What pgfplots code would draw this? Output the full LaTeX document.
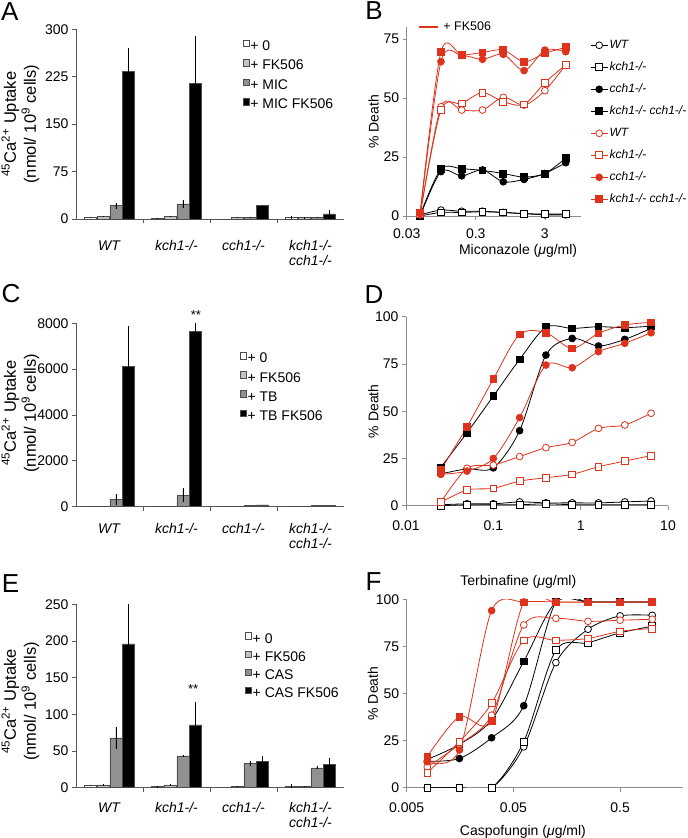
\documentclass[border=0pt]{standalone}
\usepackage{fontspec}
\setmainfont{Liberation Sans}
\usepackage{pgfplots}
\pgfplotsset{compat=1.18}
\definecolor{myred}{RGB}{222,50,28}
\definecolor{gA}{RGB}{195,195,195}
\definecolor{gB}{RGB}{145,145,145}

\pgfplotsset{
  every axis/.append style={scale only axis,
    /pgf/number format/assume math mode=true,
    /pgf/number format/1000 sep={},
    scaled y ticks=false,
    tick label style={font=\fontsize{14}{16}\selectfont},
    label style={font=\fontsize{14}{16}\selectfont}},
  barax/.style={
    anchor=south west, width=268pt, xmin=-0.5, xmax=3.5, ymin=0, clip=false,
    axis x line*=bottom, axis y line*=left,
    axis line style={black!65, line width=0.7pt},
    tick style={black!65, line width=0.7pt}, tick align=outside, major tick length=4pt,
    xtick={0.5,1.5,2.5}, xticklabels={},
    extra x ticks={0,1,2,3},
    extra x tick labels={\textit{WT},\textit{kch1-/-},\textit{cch1-/-},{\textit{kch1-/-}\\\textit{cch1-/-}}},
    extra x tick style={major tick length=0pt, tick style={draw=none}},
    x tick label style={font=\fontsize{14}{15}\selectfont, align=center},
    ylabel={\textsuperscript{45}Ca\textsuperscript{2+} Uptake\\(nmol/ 10\textsuperscript{9} cells)},
    ylabel style={font=\fontsize{16.5}{20}\selectfont, align=center, anchor=center},
    legend style={draw=none, fill=none, inner sep=0pt, anchor=north west,
      font=\fontsize{14}{16}\selectfont,
      nodes={inner sep=1pt, text height=10pt, text depth=3pt}},
    legend cell align=left,
  },
  bb/.style={ybar, bar width=12pt, draw=black!70, line width=0.5pt, forget plot,
    /pgfplots/error bars/y dir=both, /pgfplots/error bars/y explicit,
    /pgfplots/error bars/error mark=none},
  bzero/.style={bb, bar shift=-19.2pt, fill=white,
    /pgfplots/error bars/error bar style={black, line width=0.6pt, xshift=-19.2pt}},
  bone/.style={bb, bar shift=-6.4pt, fill=gA,
    /pgfplots/error bars/error bar style={black, line width=0.6pt, xshift=-6.4pt}},
  btwo/.style={bb, bar shift=6.4pt, fill=gB,
    /pgfplots/error bars/error bar style={black, line width=0.6pt, xshift=6.4pt}},
  bthree/.style={bb, bar shift=19.2pt, fill=black,
    /pgfplots/error bars/error bar style={black, line width=0.6pt, xshift=19.2pt}},
  sqimg/.style={legend image code/.code={\draw[fill=#1,draw=black!70] (0pt,0.5pt) rectangle (6pt,7pt);}},
  fkleg/.style={legend image code/.code={\draw[myred, line width=2.2pt] (0pt,0pt) -- (19pt,0pt);}},
  logaxstyle/.style={anchor=south west, ymin=0,
    axis x line*=bottom, axis y line*=left,
    axis line style={black!45, line width=0.7pt},
    tick style={black!45, line width=0.6pt},
    tick align=outside, major tick length=4pt,
    x tick label style={yshift=-7.3pt},
    ylabel={\% Death}, ylabel style={anchor=center}},
}

\begin{document}
\begin{tikzpicture}
\useasboundingbox (0pt,0pt) rectangle (688pt,838pt);

% ---------------- A ----------------
\begin{axis}[barax, at={(76pt,619pt)}, height=189.7pt, ymax=300,
  ytick={0,75,150,225,300},
  x tick label style={yshift=-18pt},
  ylabel style={at={(axis description cs:-0.207,0.5)}},
  legend style={at={(axis description cs:0.622,0.948)}, row sep=4.5pt}]
\addplot[bzero] coordinates {(0,3) +- (0,0.5) (1,1.5) +- (0,0.3) (2,0.3) +- (0,0) (3,2) +- (0,2)};
\addplot[bone] coordinates {(0,4) +- (0,1) (1,4) +- (0,1) (2,2.5) +- (0,0.5) (3,2) +- (0,0.5)};
\addplot[btwo] coordinates {(0,21) +- (0,5) (1,24) +- (0,6) (2,2.5) +- (0,0.5) (3,2.5) +- (0,1)};
\addplot[bthree] coordinates {(0,233) +- (0,38) (1,214) +- (0,75) (2,21) +- (0,0) (3,8) +- (0,7)};
\addlegendimage{sqimg=white}
\addlegendentry{+ 0}
\addlegendimage{sqimg=gA}
\addlegendentry{+ FK506}
\addlegendimage{sqimg=gB}
\addlegendentry{+ MIC}
\addlegendimage{sqimg=black}
\addlegendentry{+ MIC FK506}
\end{axis}

% ---------------- C ----------------
\begin{axis}[barax, at={(76pt,331.3pt)}, height=183.4pt, ymax=8000,
  ytick={0,2000,4000,6000,8000},
  x tick label style={yshift=-13.5pt},
  ylabel style={at={(axis description cs:-0.207,0.51)}},
  legend style={at={(axis description cs:0.612,0.845)}, row sep=4.1pt}]
\addplot[bzero] coordinates {(0,5) +- (0,0) (1,5) +- (0,0) (2,5) +- (0,0) (3,5) +- (0,0)};
\addplot[bone] coordinates {(0,5) +- (0,0) (1,5) +- (0,0) (2,10) +- (0,0) (3,10) +- (0,0)};
\addplot[btwo] coordinates {(0,310) +- (0,240) (1,500) +- (0,300) (2,55) +- (0,0) (3,45) +- (0,0)};
\addplot[bthree] coordinates {(0,6120) +- (0,1770) (1,7660) +- (0,360) (2,80) +- (0,0) (3,50) +- (0,0)};
\node[font=\fontsize{13}{13}\selectfont, yshift=-2pt] at (axis cs:1.29,8460) {**};
\addlegendimage{sqimg=white}
\addlegendentry{+ 0}
\addlegendimage{sqimg=gA}
\addlegendentry{+ FK506}
\addlegendimage{sqimg=gB}
\addlegendentry{+ TB}
\addlegendimage{sqimg=black}
\addlegendentry{+ TB FK506}
\end{axis}

% ---------------- E ----------------
\begin{axis}[barax, at={(76pt,50.3pt)}, height=183.4pt, ymax=250,
  ytick={0,50,100,150,200,250},
  x tick label style={yshift=-11.5pt},
  ylabel style={at={(axis description cs:-0.207,0.47)}},
  legend style={at={(axis description cs:0.631,0.85)}, row sep=3.2pt}]
\addplot[bzero] coordinates {(0,3) +- (0,0.5) (1,1.5) +- (0,0.3) (2,0.3) +- (0,0) (3,2) +- (0,3)};
\addplot[bone] coordinates {(0,4) +- (0,1) (1,4) +- (0,1) (2,2) +- (0,0.3) (3,2) +- (0,0.3)};
\addplot[btwo] coordinates {(0,68) +- (0,15) (1,43.5) +- (0,0.5) (2,33) +- (0,4) (3,27) +- (0,2)};
\addplot[bthree] coordinates {(0,196) +- (0,55) (1,85.5) +- (0,32) (2,36) +- (0,7) (3,32) +- (0,8)};
\node[font=\fontsize{13}{13}\selectfont, yshift=-2pt] at (axis cs:1.25,137.7) {**};
\addlegendimage{sqimg=white}
\addlegendentry{+ 0}
\addlegendimage{sqimg=gA}
\addlegendentry{+ FK506}
\addlegendimage{sqimg=gB}
\addlegendentry{+ CAS}
\addlegendimage{sqimg=black}
\addlegendentry{+ CAS FK506}
\end{axis}

% ---------------- B ----------------
\begin{axis}[logaxstyle, xmode=log, xminorticks=false,
  at={(406.7pt,622pt)}, width=174.3pt, height=188.8pt,
  xmin=0.03, xmax=10, ymax=80, ytick={0,25,50,75},
  xtick={0.03,0.3,3}, xticklabels={0.03,0.3,3},
  x tick label style={yshift=2pt},
  xlabel={Miconazole (\textit{μ}g/ml)},
  xlabel style={at={(axis description cs:0.639,-0.185)}, anchor=center},
  ylabel style={at={(axis description cs:-0.19,0.5)}},
  legend style={at={(axis description cs:1.052,0.945)}, anchor=north west,
    draw=none, fill=none, inner sep=0pt, row sep=7pt,
    font=\fontsize{12}{14}\selectfont\itshape,
    nodes={inner sep=1.5pt, text height=9pt, text depth=3pt}},
  legend cell align=left]
\addplot[black, line width=0.8pt, smooth, mark=*, mark size=3.4pt, mark options={fill=white, draw=black, solid}] coordinates {(0.047,0.5) (0.094,2.5) (0.1875,2) (0.375,2) (0.75,1.5) (1.5,1) (3,0.5) (6,0.5)};
\addlegendentry{WT}
\addplot[black, line width=0.8pt, smooth, mark=square*, mark size=3.4pt, mark options={fill=white, draw=black, solid}] coordinates {(0.047,0) (0.094,1.5) (0.1875,1.5) (0.375,1.8) (0.75,1.5) (1.5,1) (3,0.8) (6,0.8)};
\addlegendentry{kch1-/-}
\addplot[black, line width=0.8pt, smooth, mark=*, mark size=3.4pt, mark options={fill=black, draw=black, solid}] coordinates {(0.047,0) (0.094,18.8) (0.1875,17) (0.375,19.5) (0.75,14.5) (1.5,15.5) (3,18) (6,22.6)};
\addlegendentry{cch1-/-}
\addplot[black, line width=0.8pt, smooth, mark=square*, mark size=3.4pt, mark options={fill=black, draw=black, solid}] coordinates {(0.047,0.5) (0.094,19.9) (0.1875,20) (0.375,19.3) (0.75,18) (1.5,16.5) (3,18) (6,24.5)};
\addlegendentry{kch1-/- cch1-/-}
\addplot[myred, line width=0.8pt, smooth, mark=*, mark size=3.4pt, mark options={fill=white, draw=myred, solid}] coordinates {(0.047,0.5) (0.094,46.3) (0.1875,44.9) (0.375,44.9) (0.75,50.3) (1.5,47) (3,53.1) (6,64)};
\addlegendentry{WT}
\addplot[myred, line width=0.8pt, smooth, mark=square*, mark size=3.4pt, mark options={fill=white, draw=myred, solid}] coordinates {(0.047,1) (0.094,44.9) (0.1875,47.7) (0.375,52.3) (0.75,48.4) (1.5,47.3) (3,56.5) (6,64)};
\addlegendentry{kch1-/-}
\addplot[myred, line width=0.8pt, smooth, mark=*, mark size=3.4pt, mark options={fill=myred, draw=myred, solid}] coordinates {(0.047,1) (0.094,65.4) (0.1875,68) (0.375,66.4) (0.75,68.5) (1.5,61.6) (3,70.3) (6,69.6)};
\addlegendentry{cch1-/-}
\addplot[myred, line width=0.8pt, smooth, mark=square*, mark size=3.4pt, mark options={fill=myred, draw=myred, solid}] coordinates {(0.047,1.5) (0.094,69.6) (0.1875,68.2) (0.375,69.3) (0.75,70.3) (1.5,65.4) (3,68.9) (6,71.5)};
\addlegendentry{kch1-/- cch1-/-}
\end{axis}

% "+ FK506" key
\begin{axis}[hide axis, width=20pt, height=10pt, xmin=0, xmax=1, ymin=0, ymax=1,
  at={(418pt,811pt)}, anchor=south west,
  legend style={at={(axis description cs:0,0)}, anchor=west, draw=none, fill=none,
    inner sep=0pt, font=\fontsize{12.5}{14}\selectfont, nodes={inner sep=4pt}},
  fkleg]
\addlegendimage{myred}
\addlegendentry{+ FK506}
\end{axis}

% ---------------- D ----------------
\begin{axis}[logaxstyle, xmode=log, xminorticks=false,
  at={(406pt,332.3pt)}, width=262pt, height=189pt,
  xmin=0.01, xmax=10, ymax=100, ytick={0,25,50,75,100},
  xtick={0.01,0.1,1,10}, xticklabels={0.01,0.1,1,10},
  xlabel={Terbinafine (\textit{μ}g/ml)},
  xlabel style={at={(axis description cs:0.4286,-0.402)}, anchor=center},
  ylabel style={at={(axis description cs:-0.125,0.5)}}]
\addplot[black, line width=0.8pt, smooth, mark=*, mark size=3.4pt, mark options={fill=white, draw=black, solid}] coordinates {(0.025,0.5) (0.05,1) (0.1,1) (0.2,2) (0.4,1.5) (0.8,1.5) (1.6,1.5) (3.2,2) (6.4,2.5)};
\addplot[black, line width=0.8pt, smooth, mark=square*, mark size=3.4pt, mark options={fill=white, draw=black, solid}] coordinates {(0.025,0) (0.05,0.5) (0.1,0.5) (0.2,0.5) (0.4,1) (0.8,0.5) (1.6,0.5) (3.2,0.5) (6.4,0.5)};
\addplot[black, line width=0.8pt, smooth, mark=*, mark size=3.4pt, mark options={fill=black, draw=black, solid}] coordinates {(0.025,16.8) (0.05,19.5) (0.1,20) (0.2,39.7) (0.4,79.7) (0.8,88.5) (1.6,84.5) (3.2,88) (6.4,93.8)};
\addplot[black, line width=0.8pt, smooth, mark=square*, mark size=3.4pt, mark options={fill=black, draw=black, solid}] coordinates {(0.025,20.3) (0.05,38.6) (0.1,58) (0.2,77.4) (0.4,94.4) (0.8,93.8) (1.6,94.7) (3.2,94.2) (6.4,95)};
\addplot[myred, line width=0.8pt, smooth, mark=*, mark size=3.4pt, mark options={fill=white, draw=myred, solid}] coordinates {(0.025,1.8) (0.05,19.8) (0.1,21.5) (0.2,26) (0.4,30.7) (0.8,33.5) (1.6,40.9) (3.2,42.7) (6.4,48.9)};
\addplot[myred, line width=0.8pt, smooth, mark=square*, mark size=3.4pt, mark options={fill=white, draw=myred, solid}] coordinates {(0.025,1.8) (0.05,8.3) (0.1,9.2) (0.2,13) (0.4,14.8) (0.8,16.6) (1.6,20.6) (3.2,23.6) (6.4,26.5)};
\addplot[myred, line width=0.8pt, smooth, mark=*, mark size=3.4pt, mark options={fill=myred, draw=myred, solid}] coordinates {(0.025,16.6) (0.05,18.3) (0.1,25) (0.2,46.6) (0.4,74.4) (0.8,73) (1.6,81.5) (3.2,85.9) (6.4,91.5)};
\addplot[myred, line width=0.8pt, smooth, mark=square*, mark size=3.4pt, mark options={fill=myred, draw=myred, solid}] coordinates {(0.025,18.9) (0.05,41.8) (0.1,67) (0.2,90.6) (0.4,91.5) (0.8,83.2) (1.6,91.2) (3.2,95.6) (6.4,97)};
\end{axis}

% ---------------- F ----------------
\begin{axis}[logaxstyle, xmode=log, xminorticks=false,
  at={(406.7pt,50.3pt)}, width=276pt, height=188.4pt,
  xmin=0.005, xmax=1.93, ymax=100, ytick={0,25,50,75,100},
  xtick={0.005,0.05,0.5}, xticklabels={0.005,0.05,0.5},
  xlabel={Caspofungin (\textit{μ}g/ml)},
  xlabel style={at={(axis description cs:0.421,-0.234)}, anchor=center},
  ylabel style={at={(axis description cs:-0.123,0.5)}}]
\addplot[black, line width=0.8pt, smooth, mark=*, mark size=3.4pt, mark options={fill=white, draw=black, solid}] coordinates {(0.0078,0) (0.0156,0) (0.03125,0) (0.0625,21.7) (0.125,66.4) (0.25,84.1) (0.5,91.2) (1,91.5)};
\addplot[black, line width=0.8pt, smooth, mark=square*, mark size=3.4pt, mark options={fill=white, draw=black, solid}] coordinates {(0.0078,0) (0.0156,0) (0.03125,0) (0.0625,24.4) (0.125,73) (0.25,76.9) (0.5,82.2) (1,85.7)};
\addplot[black, line width=0.8pt, smooth, mark=*, mark size=3.4pt, mark options={fill=black, draw=black, solid}] coordinates {(0.0078,14) (0.0156,15.5) (0.03125,26.5) (0.0625,43.5) (0.125,98.6) (0.25,98.6) (0.5,98.6) (1,98.6)};
\addplot[black, line width=0.8pt, smooth, mark=square*, mark size=3.4pt, mark options={fill=black, draw=black, solid}] coordinates {(0.0078,15) (0.0156,23) (0.03125,36) (0.0625,67) (0.125,98.6) (0.25,98.6) (0.5,98.6) (1,98.6)};
\addplot[myred, line width=0.8pt, smooth, mark=*, mark size=3.4pt, mark options={fill=white, draw=myred, solid}] coordinates {(0.0078,11) (0.0156,23) (0.03125,38.5) (0.0625,86.4) (0.125,89.9) (0.25,88.3) (0.5,88.9) (1,89.4)};
\addplot[myred, line width=0.8pt, smooth, mark=square*, mark size=3.4pt, mark options={fill=white, draw=myred, solid}] coordinates {(0.0078,8) (0.0156,24.4) (0.03125,44.8) (0.0625,78.2) (0.125,78.2) (0.25,79.2) (0.5,83) (1,84.5)};
\addplot[myred, line width=0.8pt, smooth, mark=*, mark size=3.4pt, mark options={fill=myred, draw=myred, solid}] coordinates {(0.0078,13.8) (0.0156,20) (0.03125,94) (0.0625,98.6) (0.125,98.6) (0.25,98.6) (0.5,98.6) (1,98.6)};
\addplot[myred, line width=0.8pt, smooth, mark=square*, mark size=3.4pt, mark options={fill=myred, draw=myred, solid}] coordinates {(0.0078,16.5) (0.0156,37.7) (0.03125,35.4) (0.0625,98.4) (0.125,98.4) (0.25,98.4) (0.5,98.4) (1,98.6)};
\end{axis}

% panel letters
\node[font=\fontsize{26}{26}\selectfont] at (9.7pt,826.7pt) {A};
\node[font=\fontsize{26}{26}\selectfont] at (374pt,827pt) {B};
\node[font=\fontsize{26}{26}\selectfont] at (11pt,544pt) {C};
\node[font=\fontsize{26}{26}\selectfont] at (374pt,543pt) {D};
\node[font=\fontsize{26}{26}\selectfont] at (10.5pt,254pt) {E};
\node[font=\fontsize{26}{26}\selectfont] at (373.5pt,256pt) {F};
\end{tikzpicture}
\end{document}
